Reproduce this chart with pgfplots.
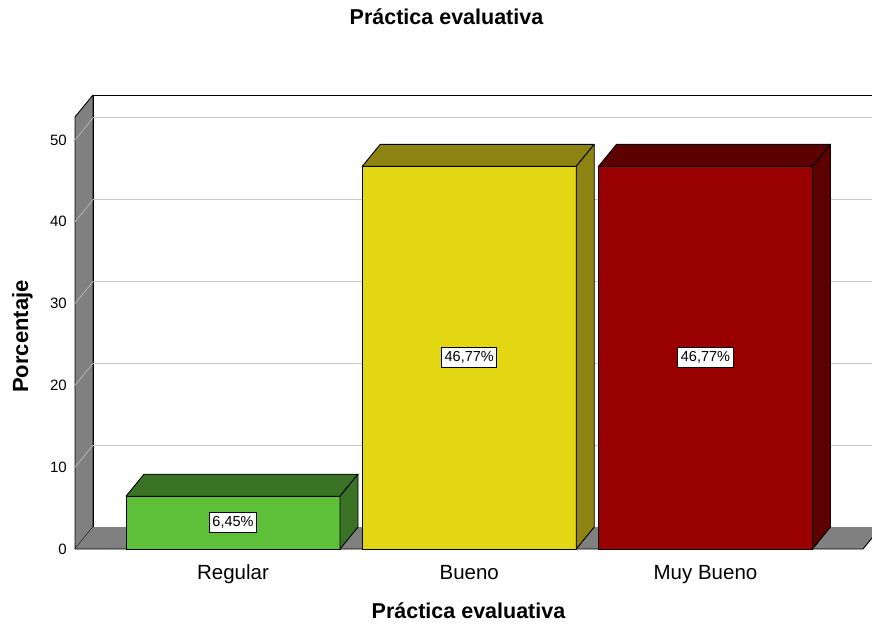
\documentclass[border=0pt]{standalone}
\usepackage{pgfplots}
\pgfplotsset{compat=1.18}
\usepackage{fontspec}
\setmainfont{Liberation Sans}

\definecolor{gfront}{RGB}{94,192,56}
\definecolor{gdark}{RGB}{58,115,38}
\definecolor{yfront}{RGB}{227,214,18}
\definecolor{ydark}{RGB}{140,131,18}
\definecolor{rfront}{RGB}{153,0,0}
\definecolor{rdark}{RGB}{92,0,0}
\definecolor{wallgray}{RGB}{128,128,128}
\definecolor{gridc}{RGB}{200,200,200}
\definecolor{gridw}{RGB}{175,175,175}

\newcommand{\xmn}{-0.6688}
\newcommand{\xmx}{2.6667}
\newcommand{\ymx}{52.8}

\newcommand{\threedbar}[4]{%
\addplot[ybar, bar width=214pt, bar shift=0pt, fill=#1, draw=black, line width=0.9pt] coordinates {(#3,#4)};
\addplot[scatter, only marks, mark=*, mark size=0.1pt,
  mark options={draw=none, fill=none},
  visualization depends on={rawy \as \ry},
  scatter/@pre marker code/.code={%
    \pgfmathsetmacro\h{\ry*8.181818}%
    \pgfmathsetmacro\hb{22-\h}%
    \pgfmathsetmacro\hm{-\h}%
    \pgfmathsetmacro\hh{-0.5*\h}%
    \filldraw[fill=#2, draw=black, line width=0.9pt, line join=round]
      (-107pt,0pt) -- (-89pt,22pt) -- (125pt,22pt) -- (107pt,0pt) -- cycle;
    \filldraw[fill=#2, draw=black, line width=0.9pt, line join=round]
      (107pt,0pt) -- (125pt,22pt) -- (125pt,\hb pt) -- (107pt,\hm pt) -- cycle;
    \node[fill=white, draw=black, line width=0.9pt, inner xsep=3pt, inner ysep=4pt,
      font=\fontsize{14.5}{16}\selectfont] at (0pt,\hh pt)
      {\pgfmathprintnumber[fixed,fixed zerofill,precision=2,use comma]{\ry}\%};
  },
  scatter/@post marker code/.code={}] coordinates {(#3,#4)};
}

\begin{document}
\begin{tikzpicture}
\useasboundingbox (0,0) rectangle (872pt,627pt);
\begin{axis}[
  at={(75pt,78pt)}, anchor=south west,
  scale only axis, width=788pt, height=432pt,
  xmin=\xmn, xmax=\xmx, ymin=0, ymax=\ymx,
  clip=false,
  axis line style={draw=none},
  major tick length=0pt, tick style={draw=none},
  xtick={0,1,2}, xticklabels={Regular,Bueno,Muy Bueno},
  ytick={0,10,20,30,40,50},
  /pgf/number format/assume math mode=true,
  yticklabel style={font=\fontsize{15}{18}\selectfont, anchor=east, inner sep=0pt, xshift=-8pt},
  xticklabel style={font=\fontsize{20.5}{24}\selectfont, anchor=base, inner sep=0pt, yshift=-30pt},
]
% left wall
\filldraw[fill=wallgray, draw=black, line width=0.9pt, line join=round]
  (axis cs:\xmn,0) -- ([xshift=18pt,yshift=22pt]axis cs:\xmn,0)
  -- ([xshift=18pt,yshift=22pt]axis cs:\xmn,\ymx) -- (axis cs:\xmn,\ymx) -- cycle;
% floor
\fill[wallgray]
  (axis cs:\xmn,0) -- ([xshift=18pt,yshift=22pt]axis cs:\xmn,0)
  -- ([xshift=18pt,yshift=22pt]axis cs:\xmx,0) -- (axis cs:\xmx,0) -- cycle;
\draw[black, line width=0.9pt]
  (axis cs:\xmn,0) -- (axis cs:\xmx,0) -- ([xshift=18pt,yshift=22pt]axis cs:\xmx,0);
% back frame
\draw[black, line width=0.9pt]
  ([xshift=18pt,yshift=22pt]axis cs:\xmn,0) -- ([xshift=18pt,yshift=22pt]axis cs:\xmn,\ymx)
  -- ([xshift=18pt,yshift=22pt]axis cs:\xmx,\ymx);
% grid lines
\pgfplotsinvokeforeach{10,20,30,40,50}{
  \draw[gridw, line width=0.9pt] (axis cs:\xmn,#1) -- ([xshift=18pt,yshift=22pt]axis cs:\xmn,#1);
  \draw[gridc, line width=0.9pt] ([xshift=18pt,yshift=22pt]axis cs:\xmn,#1) -- ([xshift=18pt,yshift=22pt]axis cs:\xmx,#1);
}
\threedbar{gfront}{gdark}{0}{6.45}
\threedbar{yfront}{ydark}{1}{46.77}
\threedbar{rfront}{rdark}{2}{46.77}
\end{axis}
\node[font=\bfseries\fontsize{21.5}{24}\selectfont, anchor=base] at (446.5pt,602pt) {Práctica evaluativa};
\node[font=\bfseries\fontsize{21.5}{24}\selectfont, anchor=base] at (468.5pt,9pt) {Práctica evaluativa};
\node[font=\bfseries\fontsize{22}{24}\selectfont, anchor=base, rotate=90] at (28pt,290.5pt) {Porcentaje};
\end{tikzpicture}
\end{document}
